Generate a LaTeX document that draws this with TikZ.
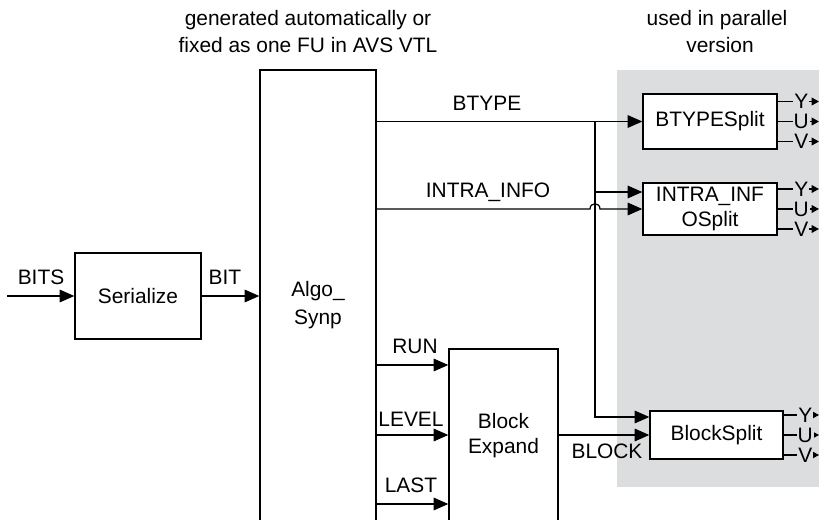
\documentclass[tikz,border=0pt]{standalone}
\usepackage{fontspec}
\setmainfont{Liberation Sans}
\usetikzlibrary{arrows.meta}
\usetikzlibrary{positioning}
\definecolor{bggray}{RGB}{220,221,223}
\def\u{0.02cm}
\tikzset{
  blk/.style={draw, line width=0.75pt, fill=white, align=center, inner sep=0pt},
  lbl/.style={anchor=base, inner sep=0pt},
  arr/.style={->, line width=0.7pt},
  yuv/.style={-{Triangle[length=4.2pt,width=4.4pt]}, line width=0.7pt},
}

\begin{document}
\begin{tikzpicture}[x=\u, y=-\u, >={Triangle[length=8.4pt,width=7.2pt]},
  font=\fontsize{11.9pt}{14.3pt}\selectfont]

% canvas
\useasboundingbox (0,0) rectangle (819,520);
\clip (0,0) rectangle (819,520);

% shaded part (parallel version)
\fill[bggray] (617,70) rectangle (830,487);

% notes on top
\node[lbl] (gen1) at (308,26) {generated automatically or};
\node[lbl] (gen2) at (308,53) {fixed as one FU in AVS VTL};
\node[lbl] (par1) at (717,26) {used in parallel};
\node[lbl] (par2) at (720,53) {version};

% blocks
\node[blk, minimum width=126*\u, minimum height=86*\u] (ser) at (138,296) {Serialize};
\node[blk, minimum width=116*\u, minimum height=470*\u,
      font=\fontsize{11.9pt}{16pt}\selectfont] (algo) at (318,305) {Algo\_\\Synp};
\node[blk, minimum width=109*\u, minimum height=196*\u] (expand) at (503.5,447) {};
\node[align=center, inner sep=0pt] (expandtxt) at (503.5,436) {Block\\Expand};
\node[blk, minimum width=134*\u, minimum height=55*\u] (bts) at (710,121.5) {BTYPESplit};
\node[blk, minimum width=134*\u, minimum height=52*\u] (intra) at (710,209) {INTRA\_INF\\OSplit};
\node[blk, minimum width=133*\u, minimum height=48*\u] (blks) at (716.5,435) {BlockSplit};

% input side
\coordinate (bitsin) at (7,296);
\draw[arr] (bitsin) -- (ser);
\node[lbl] (bits) at (41,285) {BITS};
\draw[arr] (ser) -- (ser -| algo.west);
\node[lbl] (bit) at (225,285) {BIT};

% BTYPE and INTRA_INFO
\coordinate (split) at (595,121.5);
\coordinate (intrain) at ([yshift=17*\u]intra.west);
\coordinate (blkin) at ([yshift=18*\u]blks.west);
\draw[arr] (algo.east |- bts) -- (bts.west);
\node[lbl] (btype) at (487,111) {BTYPE};
\draw[arr] (algo.east |- intra) -- ([xshift=-5*\u]split |- intra)
  .. controls +(0,-7) and +(0,-7) .. ([xshift=5*\u]split |- intra) -- (intra.west);
\node[lbl] (info) at (488,198) {INTRA\_INFO};
\draw[arr] (split |- intrain) -- (intrain);
\draw[arr] (split) |- (blkin);

% RUN, LEVEL, LAST
\foreach \t/\y/\x/\b in {RUN/365/415/354, LEVEL/435/411/427, LAST/504/411/493}{
  \draw[arr] (algo.east |- 0,\y) -- (expand.west |- 0,\y);
  \node[lbl] (\t) at (\x,\b) {\t};
}

% BLOCK
\draw[arr] (expand.east |- blks.west) -- (blks.west);
\node[lbl] (block) at (607,459) {BLOCK};

% Y U V outputs
\foreach \b/\p in {bts/0.57, intra/0.57, blks/0.61}
  \foreach \c/\d in {Y/20, U/0, V/-20}
    \draw[yuv] ([yshift=\d*\u]\b.east) coordinate (o) -- (o -| 819,0)
      node[pos=\p, fill=bggray, inner sep=0.6pt] {\c};

\end{tikzpicture}
\end{document}
